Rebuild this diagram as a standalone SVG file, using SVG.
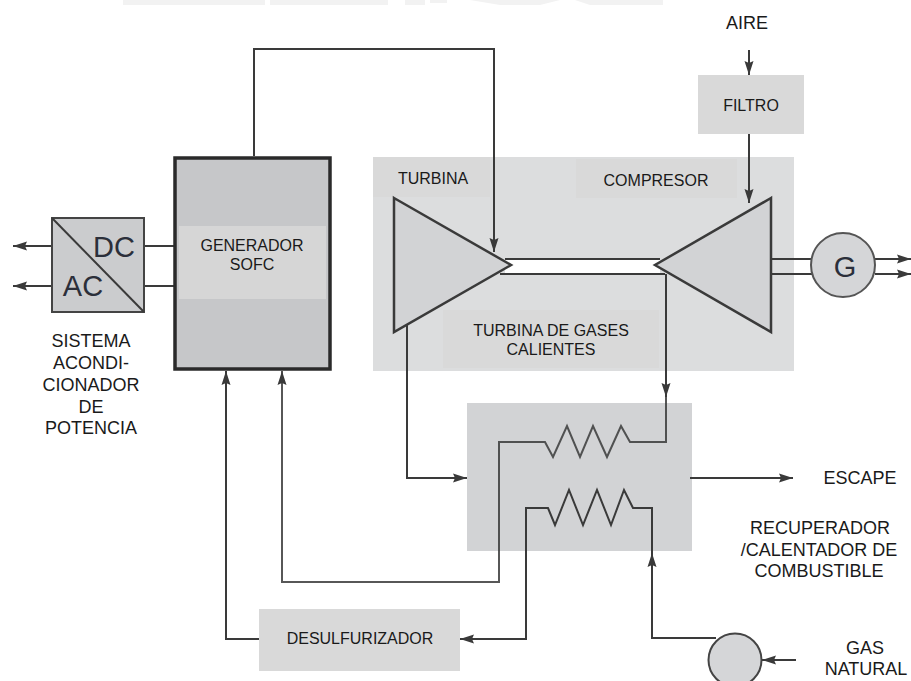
<svg xmlns="http://www.w3.org/2000/svg" width="911" height="681" viewBox="0 0 911 681">
<style>
text{font-family:"Liberation Sans",Arial,sans-serif;font-size:16px;fill:#1a1a1a;text-anchor:middle}
.o{font-size:18px}
.big{font-size:29px;fill:#2b2f3a}
.l{fill:none;stroke:#3a3a3a;stroke-width:2}
.s{stroke:#3a3a3a;stroke-width:2.5;stroke-linejoin:miter}
.head{fill:#3a3a3a}
</style>
<defs>
<marker id="a" markerUnits="userSpaceOnUse" markerWidth="16" markerHeight="12" refX="14" refY="6" orient="auto"><path d="M0 1.500L14 6L0 10.500L2 6Z" class="head"/></marker>
</defs>
<rect width="911" height="681" fill="#fff"/>
<path d="M123 0H265V5H123ZM270 0H388V5H270ZM405 0H425V5H405ZM430 0H447V3H430ZM470 0H560L540 5H500ZM575 0H663V5H590Z" fill="#f2f2f2"/>
<g id="turbina-gases">
<rect x="373" y="157" width="421" height="214" fill="#dcddde"/>
<rect x="373" y="157" width="117" height="40" fill="#d9d9d9"/>
<rect x="576" y="159" width="161" height="39" fill="#d9d9d9"/>
<rect x="443" y="310" width="216" height="58" fill="#d9d9d9"/>
<text x="433" y="184">TURBINA</text>
<text x="656" y="186">COMPRESOR</text>
<text x="551" y="336">TURBINA DE GASES</text>
<text x="551" y="355">CALIENTES</text>
<rect x="505" y="260" width="155" height="14" fill="#fff"/>
<path class="l" d="M505 259H660M500 274H665"/>
<path id="turbina" class="s" fill="#d2d3d5" d="M394 198L511 265L394 332Z"/>
<path id="compresor" class="s" fill="#d2d3d5" d="M771 198L655 265L771 332Z"/>
</g>
<g id="recuperador"><rect x="467" y="403" width="225" height="148" fill="#d2d3d5"/></g>
<g id="filtro"><rect x="698" y="75" width="106" height="59" fill="#d9d9d9"/><text x="751" y="111">FILTRO</text></g>
<g id="desulfurizador"><rect x="259" y="609" width="201" height="62" fill="#d9d9d9"/><text x="360" y="644">DESULFURIZADOR</text></g>
<g id="connectors">
<path class="l" d="M254 156V49H494V252" marker-end="url(#a)"/>
<path class="l" d="M749 50V75" marker-end="url(#a)"/>
<path class="l" d="M749 134V203" marker-end="url(#a)"/>
<path class="l" d="M51 246H13" marker-end="url(#a)"/>
<path class="l" d="M51 286H13" marker-end="url(#a)"/>
<path class="l" d="M144 246H174M144 286H174"/>
<path class="l" d="M772 259H812M772 274H812"/>
<path class="l" d="M875 259H911" marker-end="url(#a)"/>
<path class="l" d="M875 274H911" marker-end="url(#a)"/>
<path class="l" d="M407 325V478H467" marker-end="url(#a)"/>
<path class="l" d="M666 274V397" marker-end="url(#a)"/>
<path class="l" d="M666 395V442H630L621 426L607 457L593 426L580 457L567 426L553 457L545 442H499V582H282V371" marker-end="url(#a)" stroke-opacity=".85"/>
<path class="l" d="M690 478H793" marker-end="url(#a)"/>
<path class="l" d="M716 638H652V553" marker-end="url(#a)"/>
<path class="l" d="M652 553V508H633L624 490L611 525L597 490L583 525L569 490L555 525L548 508H526V639H460" marker-end="url(#a)"/>
<path class="l" d="M259 639H226V371" marker-end="url(#a)"/>
<path class="l" d="M796 660H762" marker-end="url(#a)"/>
</g>
<g id="generador"><rect x="175" y="158" width="155" height="211" fill="#c6c7c9" stroke="#2a2a2a" stroke-width="3.500"/><rect x="179" y="226" width="147" height="73" fill="#d6d6d6"/><text x="252" y="251">GENERADOR</text><text x="252" y="270">SOFC</text></g>
<g id="acdc"><rect x="52" y="218" width="92" height="94" fill="#cbccce" stroke="#444" stroke-width="2"/><path class="l" d="M52 218L144 312"/><text class="big" x="114" y="257">DC</text><text class="big" x="83" y="296">AC</text></g>
<g id="g"><circle cx="843" cy="265" r="32" fill="#d5d6d8" stroke="#555" stroke-width="2"/><text class="big" x="845" y="277">G</text></g>
<g id="bomba"><circle cx="735" cy="660" r="26.500" fill="#d5d6d8" stroke="#444" stroke-width="2"/></g>
<g id="labels">
<text class="o" x="747" y="29">AIRE</text>
<text class="o" x="860" y="484">ESCAPE</text>
<text class="o" x="820" y="534">RECUPERADOR</text><text class="o" x="819" y="556">/CALENTADOR DE</text><text class="o" x="819" y="577">COMBUSTIBLE</text>
<text class="o" x="865" y="654">GAS</text><text class="o" x="866" y="675">NATURAL</text>
<text class="o" x="91" y="347">SISTEMA</text><text class="o" x="91" y="369">ACONDI-</text><text class="o" x="91" y="391">CIONADOR</text><text class="o" x="91" y="413">DE</text><text class="o" x="91" y="434">POTENCIA</text>
</g>
</svg>
